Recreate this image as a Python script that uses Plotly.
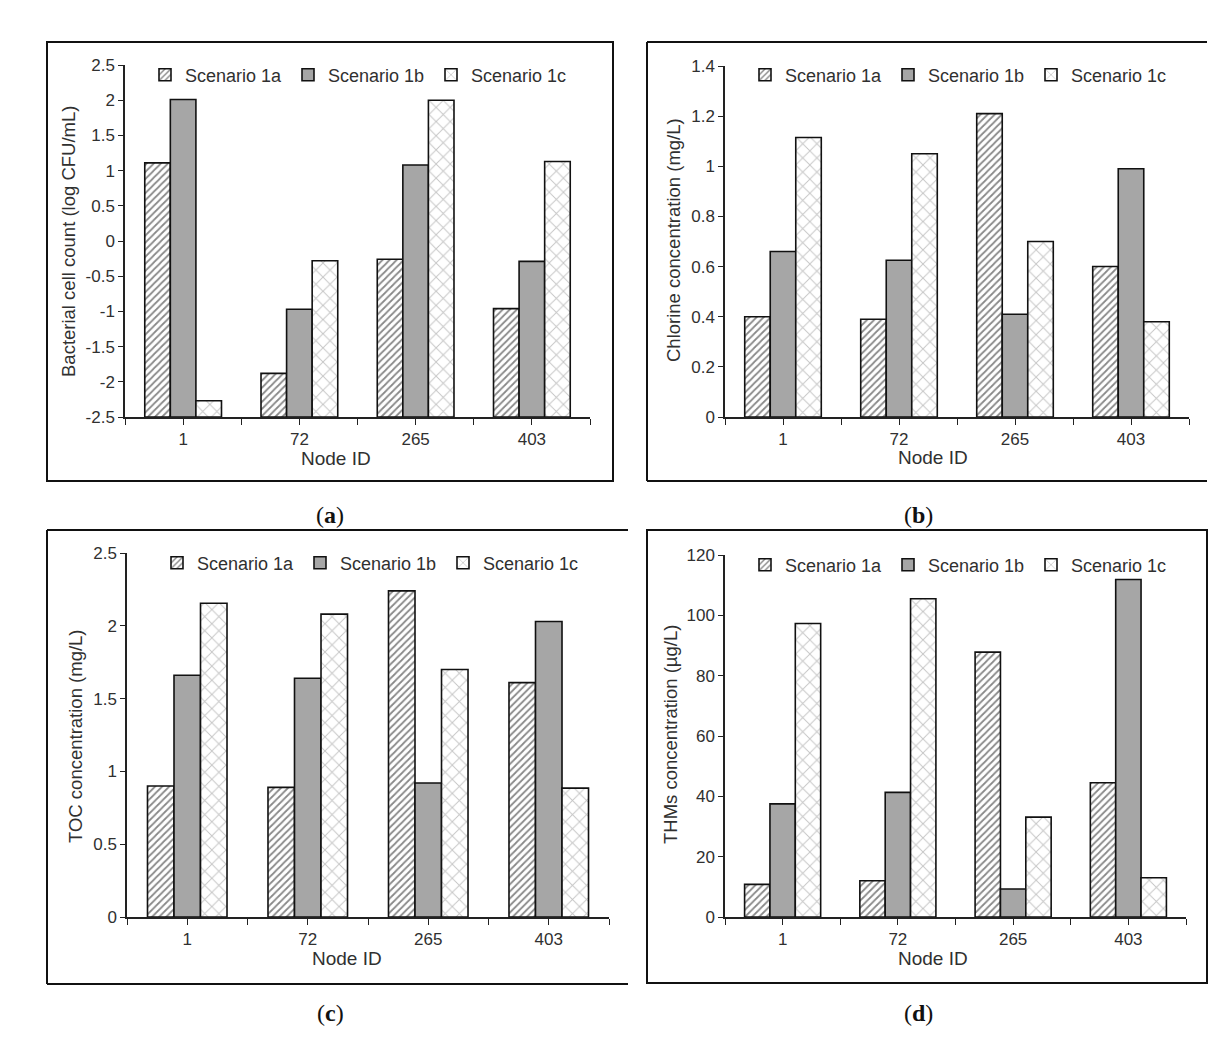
import plotly.graph_objects as go

# page body has an 8 px margin; the figure is sized to fit inside the window
OFF = 8
W, H = 1221 - 2 * OFF, 1043 - 2 * OFF

# ---------------- data ----------------
nodes = ["1", "72", "265", "403"]
scenarios = ["Scenario 1a", "Scenario 1b", "Scenario 1c"]

# (a) Bacterial cell count (log CFU/mL)
bact_1a = [1.11, -1.88, -0.26, -0.96]
bact_1b = [2.01, -0.97, 1.08, -0.29]
bact_1c = [-2.27, -0.28, 2.00, 1.13]
bact_ticks = [-2.5, -2, -1.5, -1, -0.5, 0, 0.5, 1, 1.5, 2, 2.5]
bact_ticktext = ["-2.5", "-2", "-1.5", "-1", "-0.5", "0", "0.5", "1", "1.5", "2", "2.5"]

# (b) Chlorine concentration (mg/L)
cl_1a = [0.40, 0.39, 1.21, 0.60]
cl_1b = [0.66, 0.625, 0.41, 0.99]
cl_1c = [1.115, 1.05, 0.70, 0.38]
cl_ticks = [0, 0.2, 0.4, 0.6, 0.8, 1.0, 1.2, 1.4]
cl_ticktext = ["0", "0.2", "0.4", "0.6", "0.8", "1", "1.2", "1.4"]

# (c) TOC concentration (mg/L)
toc_1a = [0.90, 0.89, 2.24, 1.61]
toc_1b = [1.66, 1.64, 0.92, 2.03]
toc_1c = [2.155, 2.08, 1.70, 0.885]
toc_ticks = [0, 0.5, 1, 1.5, 2, 2.5]
toc_ticktext = ["0", "0.5", "1", "1.5", "2", "2.5"]

# (d) THMs concentration (ug/L)
thm_1a = [10.8, 12.0, 87.8, 44.5]
thm_1b = [37.5, 41.3, 9.3, 111.9]
thm_1c = [97.3, 105.5, 33.1, 13.0]
thm_ticks = [0, 20, 40, 60, 80, 100, 120]
thm_ticktext = ["0", "20", "40", "60", "80", "100", "120"]

# ---------------- helpers ----------------
def fx(px):
    return (px - OFF) / W

def fy(py):
    return 1 - (py - OFF) / H

FONT = "Liberation Sans, Arial, sans-serif"
TXT = "#303030"

styles = [
    dict(color="white", pattern=dict(shape="/", fgcolor="#111111", bgcolor="white", size=5, solidity=0.35)),
    dict(color="#a6a6a6"),
    dict(color="white", pattern=dict(shape="x", fgcolor="#8c8c8c", bgcolor="white", size=10, solidity=0.18)),
]

panels = [
    dict(series=[bact_1a, bact_1b, bact_1c], base=-2.5, yr=[-2.5, 2.5], tv=bact_ticks, tt=bact_ticktext,
         xd=(125, 590), yd=(65, 417), yt="Bacterial cell count (log CFU/mL)", ytp=(68, 242),
         xtp=(336, 458), lg=(145, 75)),
    dict(series=[cl_1a, cl_1b, cl_1c], base=0, yr=[0, 1.4], tv=cl_ticks, tt=cl_ticktext,
         xd=(725, 1189), yd=(66, 417), yt="Chlorine concentration (mg/L)", ytp=(673, 240),
         xtp=(933, 457), lg=(745, 75)),
    dict(series=[toc_1a, toc_1b, toc_1c], base=0, yr=[0, 2.5], tv=toc_ticks, tt=toc_ticktext,
         xd=(127, 609), yd=(553, 917), yt="TOC concentration (mg/L)", ytp=(75, 736),
         xtp=(347, 958), lg=(157, 563)),
    dict(series=[thm_1a, thm_1b, thm_1c], base=0, yr=[0, 120], tv=thm_ticks, tt=thm_ticktext,
         xd=(725, 1186), yd=(555, 917), yt="THMs concentration (\u00b5g/L)", ytp=(670, 735),
         xtp=(933, 958), lg=(745, 565)),
]

fig = go.Figure()
xpos = list(range(len(nodes)))
xtickvals = []
xticktext = []
for i, n in enumerate(nodes):
    xtickvals += [i - 0.5, i]
    xticktext += ["", n]
xtickvals.append(len(nodes) - 0.5)
xticktext.append("")

annotations = []
layout = {}
for k, p in enumerate(panels):
    sfx = "" if k == 0 else str(k + 1)
    xa, ya = "x" + sfx, "y" + sfx
    lgname = "legend" + sfx
    for s, (name, vals) in enumerate(zip(scenarios, p["series"])):
        fig.add_trace(go.Bar(
            x=xpos, y=[v - p["base"] for v in vals], base=p["base"], name=name,
            marker=dict(line=dict(color="#111111", width=1.6), **styles[s]),
            xaxis=xa, yaxis=ya, legend=lgname, offsetgroup=str(s),
            hovertext=[f"{name}: {v}" for v in vals], hoverinfo="text",
        ))
    layout["xaxis" + sfx] = dict(
        domain=[fx(p["xd"][0]), fx(p["xd"][1])], anchor=ya, range=[-0.5, len(nodes) - 0.5],
        tickmode="array", tickvals=xtickvals, ticktext=xticktext,
        showline=True, linecolor="#222", linewidth=1.5, ticks="outside", ticklen=6,
        tickwidth=1.3, tickcolor="#222", showgrid=False, zeroline=False,
        tickfont=dict(family=FONT, size=17, color=TXT), fixedrange=True,
    )
    layout["yaxis" + sfx] = dict(
        domain=[fy(p["yd"][1]), fy(p["yd"][0])], anchor=xa, range=p["yr"],
        tickmode="array", tickvals=p["tv"], ticktext=p["tt"],
        showline=True, linecolor="#222", linewidth=1.5, ticks="outside", ticklen=5,
        tickwidth=1.3, tickcolor="#222", showgrid=False, zeroline=False,
        tickfont=dict(family=FONT, size=17, color=TXT), fixedrange=True,
    )
    layout[lgname] = dict(
        orientation="h", x=fx(p["lg"][0]), y=fy(p["lg"][1]), xanchor="left", yanchor="middle",
        font=dict(family=FONT, size=18, color=TXT), bgcolor="rgba(0,0,0,0)",
        entrywidth=98, entrywidthmode="pixels", itemwidth=30, traceorder="normal",
    )
    annotations.append(dict(
        text=p["yt"], x=fx(p["ytp"][0]), y=fy(p["ytp"][1]), xref="paper", yref="paper",
        showarrow=False, textangle=-90, font=dict(family=FONT, size=18.5, color=TXT),
        xanchor="center", yanchor="middle",
    ))
    annotations.append(dict(
        text="Node ID", x=fx(p["xtp"][0]), y=fy(p["xtp"][1]), xref="paper", yref="paper",
        showarrow=False, font=dict(family=FONT, size=19, color=TXT),
        xanchor="center", yanchor="middle",
    ))

panel_labels = [("a", 330, 515), ("b", 918, 515), ("c", 330, 1013), ("d", 918, 1013)]
for lab, px, py in panel_labels:
    annotations.append(dict(
        text=f"(<b>{lab}</b>)", x=fx(px), y=fy(py), xref="paper", yref="paper",
        showarrow=False, font=dict(family="Liberation Serif, Times New Roman, serif", size=24, color="#111"),
        xanchor="center", yanchor="middle",
    ))

# panel frames
line = dict(color="#111111", width=2)
shapes = []
def seg(x0, y0, x1, y1):
    shapes.append(dict(type="line", xref="paper", yref="paper",
                       x0=fx(x0), y0=fy(y0), x1=fx(x1), y1=fy(y1), line=line))
# (a) full box
shapes.append(dict(type="rect", xref="paper", yref="paper", x0=fx(47), y0=fy(481), x1=fx(613), y1=fy(42), line=line))
# (b) open on the right
seg(647, 42, 1207, 42); seg(647, 42, 647, 481); seg(647, 481, 1207, 481)
# (c) open on the right
seg(47, 530, 628, 530); seg(47, 530, 47, 984); seg(47, 984, 628, 984)
# (d) full box
shapes.append(dict(type="rect", xref="paper", yref="paper", x0=fx(647), y0=fy(983), x1=fx(1207), y1=fy(530), line=line))

fig.update_layout(
    width=W, height=H, margin=dict(l=0, r=0, t=0, b=0, autoexpand=False),
    paper_bgcolor="white", plot_bgcolor="white",
    barmode="group", bargap=0.34, bargroupgap=0,
    annotations=annotations, shapes=shapes, showlegend=True,
    font=dict(family=FONT, color=TXT),
    **layout,
)

fig.write_html("out.html")
